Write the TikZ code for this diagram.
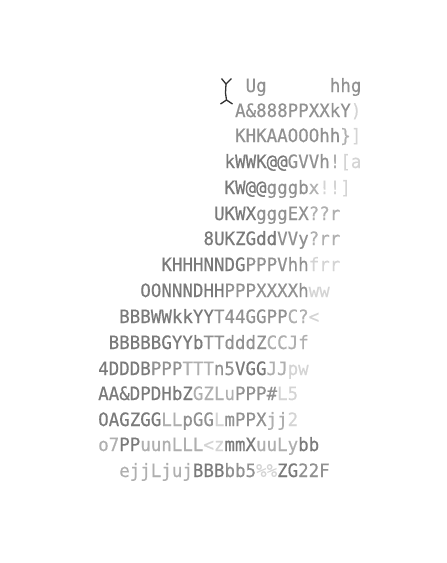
\documentclass[tikz,border=0pt]{standalone}
\usepackage{fontspec}
\setmonofont[FakeStretch=0.95,FakeBold=0.4]{DejaVu Sans Mono}
\usepackage{xcolor}
\usetikzlibrary{positioning}
\definecolor{gkA}{RGB}{122,122,122}
\definecolor{gkB}{RGB}{145,145,145}
\definecolor{gkC}{RGB}{175,175,175}
\definecolor{gkD}{RGB}{212,212,212}
\definecolor{gkcursor}{RGB}{50,50,50}
\newcommand{\ka}[1]{\textcolor{gkA}{#1}}
\newcommand{\kb}[1]{\textcolor{gkB}{#1}}
\newcommand{\kc}[1]{\textcolor{gkC}{#1}}
\newcommand{\kd}[1]{\textcolor{gkD}{#1}}
\tikzset{
  row/.style = {anchor=base west, inner sep=0pt, text=gkB,
                font=\ttfamily\fontsize{18.4}{20}\selectfont},
  cursorline/.style = {draw=gkcursor, line width=1.3pt},
}
\begin{document}
\begin{tikzpicture}[x=1pt,y=-1pt]
  \useasboundingbox (0,0) rectangle (447,563);
  % the cursor mark ahead of the first row
  \draw[cursorline] (221.5,78.5) -- (226,84) -- (231.5,78.5);
  \draw[cursorline] (226,84) -- (225.5,93) -- (226.5,100);
  \draw[cursorline] (220.5,104) -- (226.5,100) -- (232.5,104);
  % one node per row of the art
  \def\cw{10.53}
  \node[row] (r1) at ({98+14*\cw},92) {\kb{Ug}};
  \node[row] (r1b) at ({98+22*\cw},92) {\kb{hhg}};
  \node[row] (r2) at ({98+13*\cw},117) {\kb{A\&888PPXXkY}\kd{)}};
  \node[row] (r3) at ({98+13*\cw},142) {\kb{KHKAAOOOhh}\kc{\}}\kd{]}};
  \node[row] (r4) at ({98+12*\cw},168) {\ka{kWWK@@}\kb{GVVh}\kc{!}\kd{[a}};
  \node[row] (r5) at ({98+12*\cw},194) {\ka{KW@@}\kb{gggb}\kc{x}\kd{!!]}};
  \node[row] (r6) at ({98+11*\cw},220) {\ka{UKWX}\kb{gggEX}\kc{??r}};
  \node[row] (r7) at ({98+10*\cw},245) {\ka{8UKZGdd}\kb{VVy}\kc{?rr}};
  \node[row] (r8) at ({98+6*\cw},271) {\ka{KHHHNNDG}\kb{PPPVhh}\kd{frr}};
  \node[row] (r9) at ({98+4*\cw},297) {\ka{OONNNDHH}\kb{PPPXXXXh}\kd{ww}};
  \node[row] (r10) at ({98+2*\cw},323) {\ka{BBBWWkkYY}\kb{T44GGPP}\kc{C?}\kd{<}};
  \node[row] (r11) at ({98+1*\cw},349) {\ka{BBBBBGYYb}\kb{TTdddZ}\kc{CCJf}};
  \node[row] (r12) at (98,375) {\ka{4DDDB}\kb{PPP}\kc{TTT}\kb{n5}\ka{VGG}\kc{JJ}\kd{pw}};
  \node[row] (r13) at (98,400) {\ka{AA\&DPDHbZ}\kc{GZLu}\kb{PPP\#}\kd{L5}};
  \node[row] (r14) at (98,426) {\ka{OAGZGG}\kc{LL}\kb{pGG}\kd{L}\kb{mPPX}\kc{jj}\kd{2}};
  \node[row] (r15) at (98,451) {\kc{o7}\ka{PP}\kc{uunLLL}\kd{<z}\ka{mmX}\kc{uuLy}\ka{bb}};
  \node[row] (r16) at ({98+2*\cw},477) {\kc{ejjLjuj}\ka{BBB}\kb{bb5}\kd{\%\%}\ka{ZG}\kb{22F}};
\end{tikzpicture}
\end{document}
